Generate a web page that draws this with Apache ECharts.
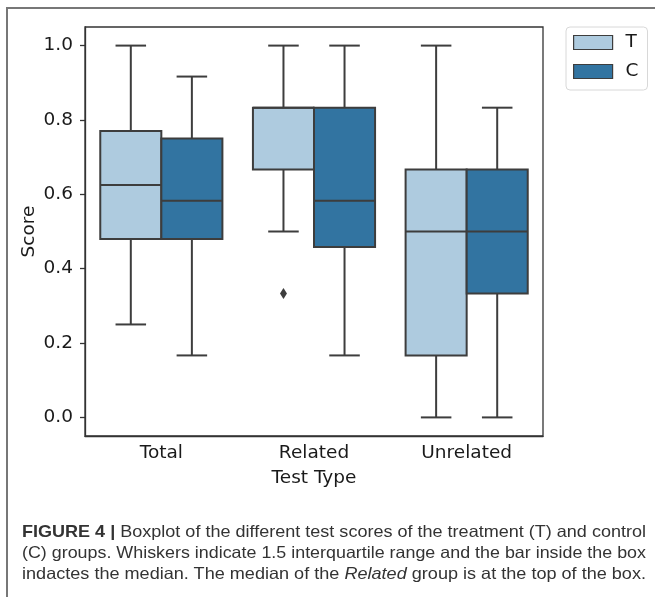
<!DOCTYPE html>
<html>
<head>
<meta charset="utf-8">
<script src="https://cdn.jsdelivr.net/npm/echarts@6/dist/echarts.min.js"></script>
<style>
  html, body { margin: 0; padding: 0; background: #fff; }
  #wrap { position: relative; width: 655px; height: 602px; overflow: hidden; }
  #chart { position: absolute; left: 0; top: 0; width: 655px; height: 602px; }
  #frame { position: absolute; left: 6px; top: 7px; width: 660px; height: 590px;
           border-left: 2px solid #777; border-top: 2px solid #777; box-sizing: border-box; }
  #caption { position: absolute; left: 22px; top: 523px; width: 624px;
             font-family: "Liberation Sans", Arial, sans-serif; font-size: 16.5px; color: #333; }
  #caption .ln { height: 21px; line-height: 17px; white-space: nowrap; }
  #caption .ln span { display: inline-block; transform-origin: 0 0; }
</style>
</head>
<body>
<div id="wrap">
  <div id="chart"></div>
  <div id="frame"></div>
  <div id="caption">
    <div class="ln"><span><b>FIGURE 4 |</b> Boxplot of the different test scores of the treatment (T) and control</span></div>
    <div class="ln"><span>(C) groups. Whiskers indicate 1.5 interquartile range and the bar inside the box</span></div>
    <div class="ln"><span>indactes the median. The median of the <i>Related</i> group is at the top of the box.</span></div>
  </div>
</div>
<script>
// ---- data ----
const categories = ['Total', 'Related', 'Unrelated'];
const seriesNames = ['T', 'C'];
// [lowWhisker, Q1, median, Q3, highWhisker]
const tStats = [
  [0.25, 0.48, 0.625, 0.77, 1.0],
  [0.5, 0.667, 0.833, 0.833, 1.0],
  [0.0, 0.1667, 0.5, 0.667, 1.0]
];
const cStats = [
  [0.1667, 0.48, 0.583, 0.75, 0.9167],
  [0.1667, 0.4583, 0.583, 0.833, 1.0],
  [0.0, 0.333, 0.5, 0.667, 0.833]
];
// [categoryIndex, value]
const tOutliers = [[1, 0.333]];
const yTicks = [0.0, 0.2, 0.4, 0.6, 0.8, 1.0];

// ---- styles ----
const T_COLOR = '#aecbdf';
const C_COLOR = '#3274a1';
const LINE = '#3d3d3d';
const FONT = 'DejaVu Sans';
const FS = 18.5;

function boxRenderer(side, fill) {
  return function (params, api) {
    const cat = api.value(0);
    const lo = api.value(1), q1 = api.value(2), med = api.value(3), q3 = api.value(4), hi = api.value(5);
    const band = api.size([1, 0])[0];
    const w = band * 0.4;
    const cx = api.coord([cat, 0])[0] + side * w / 2;
    const y = v => api.coord([cat, v])[1];
    const ls = { stroke: LINE, lineWidth: 2 };
    const cap = w / 4;
    return {
      type: 'group',
      children: [
        { type: 'line', shape: { x1: cx, y1: y(q3), x2: cx, y2: y(hi) }, style: ls },
        { type: 'line', shape: { x1: cx, y1: y(q1), x2: cx, y2: y(lo) }, style: ls },
        { type: 'line', shape: { x1: cx - cap, y1: y(hi), x2: cx + cap, y2: y(hi) }, style: ls },
        { type: 'line', shape: { x1: cx - cap, y1: y(lo), x2: cx + cap, y2: y(lo) }, style: ls },
        { type: 'rect', shape: { x: cx - w / 2, y: y(q3), width: w, height: y(q1) - y(q3) },
          style: { fill: fill, stroke: LINE, lineWidth: 2 } },
        { type: 'line', shape: { x1: cx - w / 2, y1: y(med), x2: cx + w / 2, y2: y(med) }, style: ls }
      ]
    };
  };
}

function outlierRenderer(side) {
  return function (params, api) {
    const cat = api.value(0);
    const v = api.value(1);
    const band = api.size([1, 0])[0];
    const w = band * 0.4;
    const p = api.coord([cat, v]);
    const cx = p[0] + side * w / 2, cy = p[1];
    return {
      type: 'polygon',
      shape: { points: [[cx, cy - 5.5], [cx + 3.5, cy], [cx, cy + 5.5], [cx - 3.5, cy]] },
      style: { fill: LINE }
    };
  };
}

const chart = echarts.init(document.getElementById('chart'), null, { renderer: 'canvas' });
chart.setOption({
  animation: false,
  backgroundColor: 'transparent',
  textStyle: { fontFamily: FONT },
  grid: { left: 85, top: 27, width: 458, height: 409, show: true, borderColor: '#333', borderWidth: 1.3, containLabel: false },
  legend: {
    left: 566, top: 27, orient: 'vertical',
    padding: [6, 9, 9, 7],
    itemWidth: 39, itemHeight: 14, itemGap: 10,
    borderColor: '#d8d8d8', borderWidth: 1, borderRadius: 4,
    textStyle: { fontFamily: FONT, fontSize: FS, color: '#1a1a1a', lineHeight: 14, padding: [0, 0, 0, 8] },
    data: [
      { name: 'T', icon: 'rect', itemStyle: { color: T_COLOR, borderColor: LINE, borderWidth: 1.2 } },
      { name: 'C', icon: 'rect', itemStyle: { color: C_COLOR, borderColor: LINE, borderWidth: 1.2 } }
    ]
  },
  xAxis: {
    type: 'category', data: categories, boundaryGap: true,
    axisLine: { onZero: false, lineStyle: { color: '#333', width: 1.3 } },
    axisTick: { alignWithLabel: true, length: 5, lineStyle: { color: '#333', width: 1.3 } },
    axisLabel: { fontFamily: FONT, fontSize: FS, color: '#1a1a1a', margin: 8 },
    name: 'Test Type', nameLocation: 'middle', nameGap: 33,
    nameTextStyle: { fontFamily: FONT, fontSize: FS, color: '#1a1a1a' }
  },
  yAxis: {
    type: 'value', min: -0.05, max: 1.05,
    splitLine: { show: false },
    axisLine: { show: true, onZero: false, lineStyle: { color: '#333', width: 1.3 } },
    axisTick: { show: true, length: 5, customValues: yTicks, lineStyle: { color: '#333', width: 1.3 } },
    axisLabel: { fontFamily: FONT, fontSize: FS, color: '#1a1a1a', margin: 12, customValues: yTicks,
                 formatter: v => Number(v).toFixed(1) },
    name: 'Score', nameLocation: 'middle', nameGap: 46, nameRotate: 90, nameMoveOverlap: false,
    nameTextStyle: { fontFamily: FONT, fontSize: FS, color: '#1a1a1a' }
  },
  series: [
    { name: 'T', type: 'custom', renderItem: boxRenderer(-1, T_COLOR), itemStyle: { color: T_COLOR },
      encode: { x: 0, y: [1, 2, 3, 4, 5] }, data: tStats.map((s, i) => [i].concat(s)) },
    { name: 'C', type: 'custom', renderItem: boxRenderer(1, C_COLOR), itemStyle: { color: C_COLOR },
      encode: { x: 0, y: [1, 2, 3, 4, 5] }, data: cStats.map((s, i) => [i].concat(s)) },
    { name: 'T', type: 'custom', renderItem: outlierRenderer(-1), itemStyle: { color: T_COLOR },
      encode: { x: 0, y: 1 }, data: tOutliers }
  ]
});

// fit each caption line to the justified width
document.querySelectorAll('#caption .ln span').forEach(function (s) {
  const w = s.getBoundingClientRect().width;
  s.style.transform = 'scaleX(' + (624 / w) + ')';
});
</script>
</body>
</html>
